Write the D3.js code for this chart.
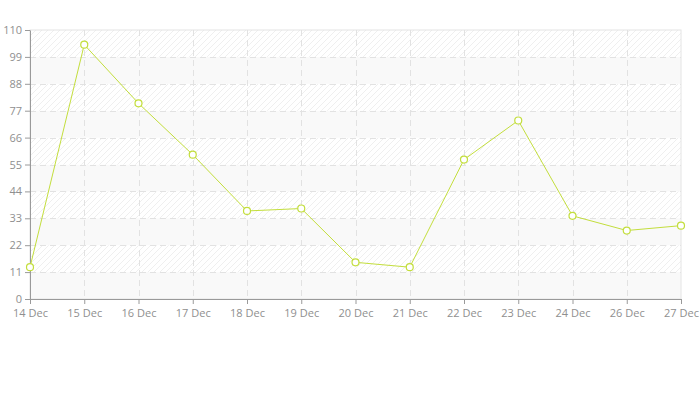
<!DOCTYPE html>
<meta charset="utf-8">
<style>
    body { margin: 0; background: #fff; }
    .axis text { font: 11px "Open Sans", sans-serif; fill: #8f8f8f; }
    .axis path, .axis line { stroke: #9a9a9a; }
    .grid line { stroke: #e2e2e2; stroke-dasharray: 6,4; }
    .line { fill: none; stroke: #c3de3c; stroke-width: 1px; }
    .dot { fill: #fff; stroke: #c3de3c; stroke-width: 1.2px; }
</style>
<svg></svg>
<script src="https://cdn.jsdelivr.net/npm/d3@7"></script>
<script>

    var days = ["14 Dec", "15 Dec", "16 Dec", "17 Dec", "18 Dec", "19 Dec", "20 Dec",
                "21 Dec", "22 Dec", "23 Dec", "24 Dec", "26 Dec", "27 Dec"];
    var values = [13, 104, 80, 59, 36, 37, 15, 13, 57, 73, 34, 28, 30];
    var yTicks = [0, 11, 22, 33, 44, 55, 66, 77, 88, 99, 110];

    var width = 700, height = 400;
    var margin = {top: 30, right: 19, bottom: 101, left: 30};
    var w = width - margin.left - margin.right,
        h = height - margin.top - margin.bottom;

    var svg = d3.select("svg").attr("width", width).attr("height", height);

    var defs = svg.append("defs");
    var pat = defs.append("pattern")
        .attr("id", "hatch")
        .attr("patternUnits", "userSpaceOnUse")
        .attr("width", 6).attr("height", 6);
    pat.append("rect").attr("width", 6).attr("height", 6).attr("fill", "#fff");
    pat.append("path")
        .attr("d", "M-1,1 l2,-2 M0,6 l6,-6 M5,7 l2,-2")
        .attr("stroke", "#efefef").attr("stroke-width", 1);

    var g = svg.append("g").attr("transform", "translate(" + margin.left + "," + margin.top + ")");

    var x = d3.scalePoint().domain(days).range([0, w]);
    var y = d3.scaleLinear().domain([0, 110]).range([h, 0]);

    // alternating bands
    g.selectAll(".band")
        .data(yTicks.slice(0, -1))
        .enter().append("rect")
        .attr("x", 0)
        .attr("width", w)
        .attr("y", function(d, i) { return y(yTicks[i + 1]); })
        .attr("height", function(d, i) { return y(d) - y(yTicks[i + 1]); })
        .attr("fill", function(d, i) { return i % 2 ? "url(#hatch)" : "#f9f9f9"; });

    // frame
    g.append("rect").attr("width", w).attr("height", h)
        .attr("fill", "none").attr("stroke", "#e4e4e4");

    // grid
    g.append("g").attr("class", "grid")
        .selectAll("line").data(yTicks.slice(1, -1))
        .enter().append("line")
        .attr("x1", 0).attr("x2", w)
        .attr("y1", function(d) { return Math.round(y(d)) + 0.5; })
        .attr("y2", function(d) { return Math.round(y(d)) + 0.5; });

    g.append("g").attr("class", "grid")
        .selectAll("line").data(days.slice(1, -1))
        .enter().append("line")
        .attr("y1", 0).attr("y2", h)
        .attr("x1", function(d) { return Math.round(x(d)) + 0.5; })
        .attr("x2", function(d) { return Math.round(x(d)) + 0.5; });

    g.append("g").attr("class", "axis")
        .attr("transform", "translate(0," + h + ")")
        .call(d3.axisBottom(x).tickSizeInner(5).tickSizeOuter(0).tickPadding(5));

    g.append("g").attr("class", "axis")
        .call(d3.axisLeft(y).tickValues(yTicks).tickSizeInner(5).tickSizeOuter(0).tickPadding(3));

    var line = d3.line()
        .x(function(d, i) { return x(days[i]); })
        .y(function(d) { return y(d); });

    g.append("path").datum(values).attr("class", "line").attr("d", line);

    g.selectAll(".dot").data(values)
        .enter().append("circle").attr("class", "dot")
        .attr("cx", function(d, i) { return x(days[i]); })
        .attr("cy", function(d) { return y(d); })
        .attr("r", 3.5);

</script>
